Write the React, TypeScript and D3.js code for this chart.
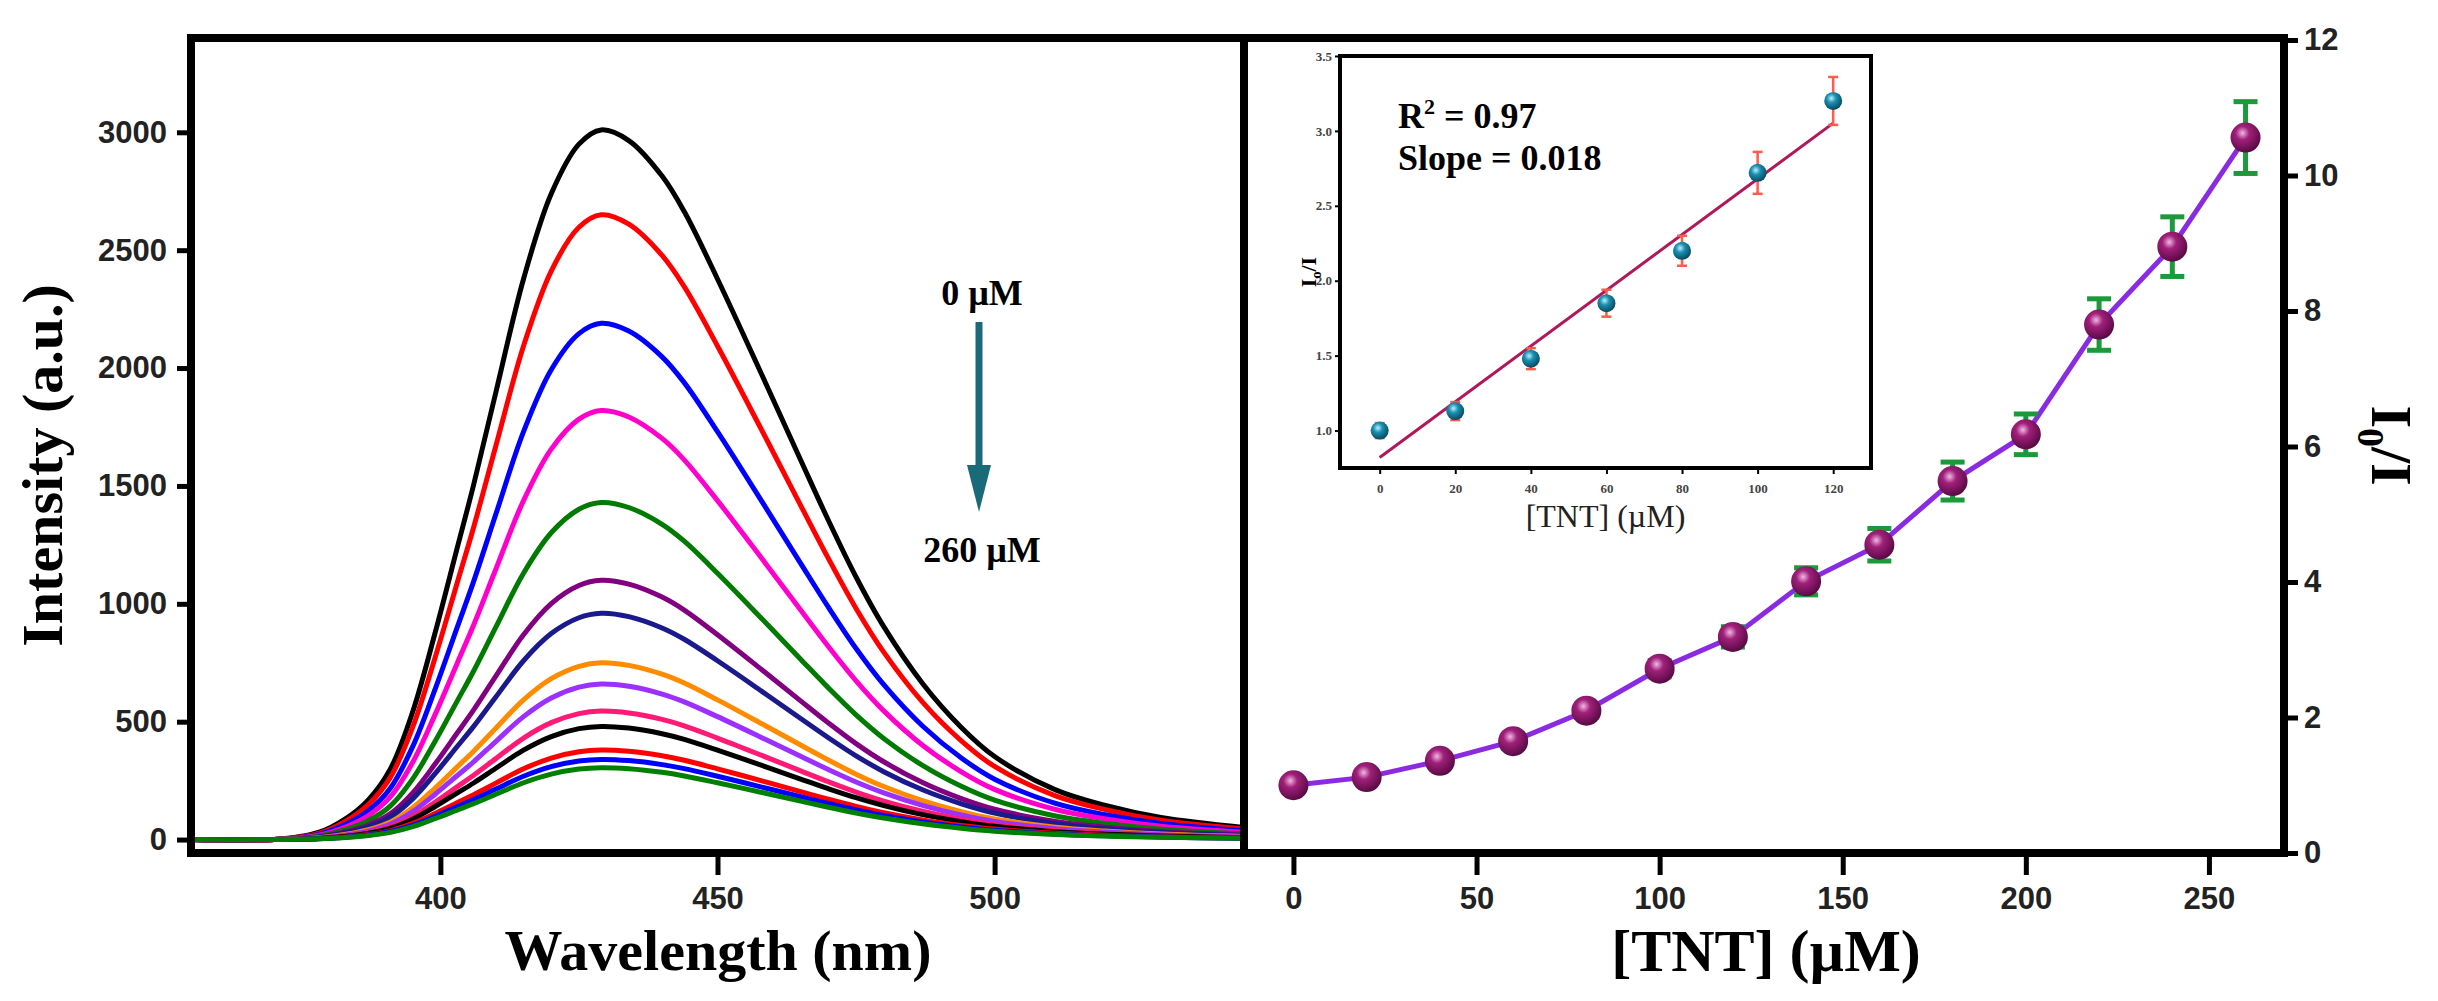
import { useEffect, useRef } from 'react';
import * as d3 from 'd3';

// spectral shape of the 0 µM curve (normalized)
const wavelengths = [355, 370, 378, 383, 387, 391, 395, 399, 403, 406, 410, 415, 420, 425, 429, 434, 440, 444, 450, 458, 465, 470, 475, 480, 487, 494, 500, 511, 520, 530, 545];
const shape = [0.0, 0.0, 0.01, 0.03, 0.056, 0.1, 0.18, 0.29, 0.41, 0.5, 0.63, 0.79, 0.91, 0.98, 1.0, 0.985, 0.935, 0.885, 0.79, 0.655, 0.535, 0.45, 0.37, 0.3, 0.22, 0.158, 0.117, 0.07, 0.048, 0.031, 0.017];
const peaks = [3010, 2650, 2190, 1820, 1430, 1100, 960, 750, 660, 545, 480, 380, 340, 305];
const spectraColors = ['#000000', '#ff0000', '#0000ff', '#ff00cc', '#007a00', '#800080', '#1a1a8c', '#ff8c00', '#9b30ff', '#ff1a75', '#000000', '#ff0000', '#0000ff', '#008000'];

const tntConc = [0, 20, 40, 60, 80, 100, 120, 140, 160, 180, 200, 220, 240, 260];
const ratio = [1.0, 1.12, 1.36, 1.65, 2.1, 2.72, 3.19, 4.01, 4.55, 5.49, 6.18, 7.8, 8.95, 10.56];
const ratioErr = [0.08, 0.08, 0.1, 0.1, 0.1, 0.12, 0.15, 0.2, 0.24, 0.28, 0.3, 0.38, 0.44, 0.53];

const insetConc = [0, 20, 40, 60, 80, 100, 120];
const insetRatio = [1.0, 1.13, 1.48, 1.85, 2.2, 2.72, 3.2];
const insetErr = [0.05, 0.06, 0.07, 0.09, 0.1, 0.14, 0.16];
const fitIntercept = 0.82;
const fitSlope = 0.0186;

const serif = '"Liberation Serif", "DejaVu Serif", serif';
const sans = '"Liberation Sans", Arial, sans-serif';

export default function App() {
  const ref = useRef<SVGSVGElement | null>(null);

  useEffect(() => {
    const svg = d3.select(ref.current);
    svg.selectAll('*').remove();

    const defs = svg.append('defs');
    const g1 = defs.append('radialGradient').attr('id', 'purpleBall').attr('cx', '40%').attr('cy', '35%').attr('r', '65%');
    g1.append('stop').attr('offset', '0%').attr('stop-color', '#f2b8e4');
    g1.append('stop').attr('offset', '35%').attr('stop-color', '#a0207a');
    g1.append('stop').attr('offset', '100%').attr('stop-color', '#5a0a45');
    const g2 = defs.append('radialGradient').attr('id', 'tealBall').attr('cx', '40%').attr('cy', '35%').attr('r', '65%');
    g2.append('stop').attr('offset', '0%').attr('stop-color', '#b8f0ff');
    g2.append('stop').attr('offset', '40%').attr('stop-color', '#1a8fb0');
    g2.append('stop').attr('offset', '100%').attr('stop-color', '#0a4a60');

    // ---------- LEFT PANEL ----------
    const L = { left: 191, right: 1244, top: 38, bottom: 853 };
    const xL = d3.scaleLinear().domain([355, 545]).range([L.left, L.right]);
    const yL = d3.scaleLinear().domain([-40, 3400]).range([L.bottom - 4, L.top]);

    const lineL = d3.line<number>()
      .x((_, i) => xL(wavelengths[i]))
      .y(d => yL(d))
      .curve(d3.curveCatmullRom.alpha(0.5));

    const spectra = svg.append('g');
    peaks.forEach((p, k) => {
      spectra.append('path')
        .attr('d', lineL(shape.map(s => s * p)))
        .attr('fill', 'none')
        .attr('stroke', spectraColors[k])
        .attr('stroke-width', 5);
    });

    const yAxisL = svg.append('g').attr('transform', `translate(${L.left},0)`)
      .call(d3.axisLeft(yL).tickValues([0, 500, 1000, 1500, 2000, 2500, 3000]).tickSize(14).tickPadding(10).tickFormat(d3.format('d')));
    const xAxisL = svg.append('g').attr('transform', `translate(0,${L.bottom})`)
      .call(d3.axisBottom(xL).tickValues([400, 450, 500]).tickSize(22).tickPadding(12));
    [yAxisL, xAxisL].forEach(a => {
      a.select('.domain').remove();
      a.selectAll('line').attr('stroke', '#000').attr('stroke-width', 5);
      a.selectAll('text').attr('font-family', sans).attr('font-weight', 'bold').attr('font-size', 31).attr('fill', '#222');
    });

    svg.append('rect')
      .attr('x', L.left).attr('y', L.top).attr('width', L.right - L.left).attr('height', L.bottom - L.top)
      .attr('fill', 'none').attr('stroke', '#000').attr('stroke-width', 8);

    svg.append('text').attr('transform', `translate(62,${(L.top + L.bottom) / 2 + 20}) rotate(-90)`)
      .attr('text-anchor', 'middle').attr('font-family', serif).attr('font-weight', 'bold').attr('font-size', 58)
      .text('Intensity (a.u.)');
    svg.append('text').attr('x', 718).attr('y', 970)
      .attr('text-anchor', 'middle').attr('font-family', serif).attr('font-weight', 'bold').attr('font-size', 58)
      .text('Wavelength (nm)');

    // arrow annotation
    svg.append('text').attr('x', 982).attr('y', 305).attr('text-anchor', 'middle')
      .attr('font-family', serif).attr('font-weight', 'bold').attr('font-size', 36).text('0 µM');
    svg.append('line').attr('x1', 979).attr('x2', 979).attr('y1', 322).attr('y2', 470)
      .attr('stroke', '#1a6a7a').attr('stroke-width', 7);
    svg.append('path').attr('d', 'M967,465 L991,465 L979,512 Z').attr('fill', '#1a6a7a');
    svg.append('text').attr('x', 982).attr('y', 562).attr('text-anchor', 'middle')
      .attr('font-family', serif).attr('font-weight', 'bold').attr('font-size', 36).text('260 µM');

    // ---------- RIGHT PANEL ----------
    const R = { left: 1244, right: 2284, top: 38, bottom: 853 };
    const xR = d3.scaleLinear().domain([-13.5, 270.5]).range([R.left, R.right]);
    const yR = d3.scaleLinear().domain([0, 12]).range([R.bottom, R.top + 2]);

    const lineR = d3.line<number>().x((_, i) => xR(tntConc[i])).y(d => yR(d));
    svg.append('path').attr('d', lineR(ratio)).attr('fill', 'none').attr('stroke', '#8a2be2').attr('stroke-width', 5);

    const errG = svg.append('g').attr('stroke', '#1a9a3a').attr('stroke-width', 5);
    tntConc.forEach((c, i) => {
      const cx = xR(c);
      const y0 = yR(ratio[i] - ratioErr[i]);
      const y1 = yR(ratio[i] + ratioErr[i]);
      errG.append('line').attr('x1', cx).attr('x2', cx).attr('y1', y0).attr('y2', y1);
      errG.append('line').attr('x1', cx - 12).attr('x2', cx + 12).attr('y1', y0).attr('y2', y0);
      errG.append('line').attr('x1', cx - 12).attr('x2', cx + 12).attr('y1', y1).attr('y2', y1);
    });
    svg.append('g').selectAll('circle').data(ratio).join('circle')
      .attr('cx', (_, i) => xR(tntConc[i])).attr('cy', d => yR(d)).attr('r', 15)
      .attr('fill', 'url(#purpleBall)');

    const yAxisR = svg.append('g').attr('transform', `translate(${R.right},0)`)
      .call(d3.axisRight(yR).tickValues([0, 2, 4, 6, 8, 10, 12]).tickSize(14).tickPadding(6));
    const xAxisR = svg.append('g').attr('transform', `translate(0,${R.bottom})`)
      .call(d3.axisBottom(xR).tickValues([0, 50, 100, 150, 200, 250]).tickSize(22).tickPadding(12));
    [yAxisR, xAxisR].forEach(a => {
      a.select('.domain').remove();
      a.selectAll('line').attr('stroke', '#000').attr('stroke-width', 5);
      a.selectAll('text').attr('font-family', sans).attr('font-weight', 'bold').attr('font-size', 31).attr('fill', '#222');
    });
    svg.append('rect')
      .attr('x', R.left).attr('y', R.top).attr('width', R.right - R.left).attr('height', R.bottom - R.top)
      .attr('fill', 'none').attr('stroke', '#000').attr('stroke-width', 8);

    const lab = svg.append('text').attr('transform', `translate(2372,${(R.top + R.bottom) / 2}) rotate(90)`)
      .attr('text-anchor', 'middle').attr('font-family', serif).attr('font-weight', 'bold').attr('font-size', 58);
    lab.append('tspan').text('I');
    lab.append('tspan').attr('font-size', 38).attr('dy', 14).text('0');
    lab.append('tspan').attr('dy', -14).text('/I');

    svg.append('text').attr('x', 1766).attr('y', 971)
      .attr('text-anchor', 'middle').attr('font-family', serif).attr('font-weight', 'bold').attr('font-size', 60)
      .text('[TNT] (µM)');

    // ---------- INSET ----------
    const I = { left: 1340, right: 1871, top: 56, bottom: 468 };
    const xI = d3.scaleLinear().domain([-10.5, 130]).range([I.left, I.right]);
    const yI = d3.scaleLinear().domain([0.75, 3.5]).range([I.bottom, I.top]);

    svg.append('line')
      .attr('x1', xI(0)).attr('x2', xI(120))
      .attr('y1', yI(fitIntercept)).attr('y2', yI(fitIntercept + fitSlope * 120))
      .attr('stroke', '#b0185a').attr('stroke-width', 3);
    const errI = svg.append('g').attr('stroke', '#ff5a4a').attr('stroke-width', 2.5);
    insetConc.forEach((c, i) => {
      const cx = xI(c);
      const y0 = yI(insetRatio[i] - insetErr[i]);
      const y1 = yI(insetRatio[i] + insetErr[i]);
      errI.append('line').attr('x1', cx).attr('x2', cx).attr('y1', y0).attr('y2', y1);
      errI.append('line').attr('x1', cx - 5).attr('x2', cx + 5).attr('y1', y0).attr('y2', y0);
      errI.append('line').attr('x1', cx - 5).attr('x2', cx + 5).attr('y1', y1).attr('y2', y1);
    });
    svg.append('g').selectAll('circle').data(insetRatio).join('circle')
      .attr('cx', (_, i) => xI(insetConc[i])).attr('cy', d => yI(d)).attr('r', 9)
      .attr('fill', 'url(#tealBall)');

    const yAxisI = svg.append('g').attr('transform', `translate(${I.left},0)`)
      .call(d3.axisLeft(yI).tickValues([1.0, 1.5, 2.0, 2.5, 3.0, 3.5]).tickSize(5).tickPadding(3).tickFormat(d3.format('.1f')));
    const xAxisI = svg.append('g').attr('transform', `translate(0,${I.bottom})`)
      .call(d3.axisBottom(xI).tickValues(insetConc).tickSize(6).tickPadding(10));
    [yAxisI, xAxisI].forEach(a => {
      a.select('.domain').remove();
      a.selectAll('line').attr('stroke', '#000').attr('stroke-width', 2);
      a.selectAll('text').attr('font-family', serif).attr('font-weight', 'bold').attr('font-size', 13).attr('fill', '#444');
    });
    svg.append('rect')
      .attr('x', I.left).attr('y', I.top).attr('width', I.right - I.left).attr('height', I.bottom - I.top)
      .attr('fill', 'none').attr('stroke', '#000').attr('stroke-width', 4);

    const ilab = svg.append('text').attr('transform', `translate(1316,${(I.top + I.bottom) / 2 + 10}) rotate(-90)`)
      .attr('text-anchor', 'middle').attr('font-family', serif).attr('font-weight', 'bold').attr('font-size', 22);
    ilab.append('tspan').text('I');
    ilab.append('tspan').attr('font-size', 14).attr('dy', 5).text('o');
    ilab.append('tspan').attr('dy', -5).text('/I');

    svg.append('text').attr('x', (I.left + I.right) / 2).attr('y', 527).attr('text-anchor', 'middle')
      .attr('font-family', serif).attr('font-size', 32).attr('fill', '#222').text('[TNT] (µM)');

    const r2 = svg.append('text').attr('x', 1398).attr('y', 128)
      .attr('font-family', serif).attr('font-weight', 'bold').attr('font-size', 36);
    r2.append('tspan').text('R');
    r2.append('tspan').attr('font-size', 22).attr('dy', -14).text('2');
    r2.append('tspan').attr('dy', 14).text(' = 0.97');
    svg.append('text').attr('x', 1398).attr('y', 170)
      .attr('font-family', serif).attr('font-weight', 'bold').attr('font-size', 36).text('Slope = 0.018');
  }, []);

  return (
    <div style={{ margin: -8, background: '#fff' }}>
      <svg ref={ref} width={2438} height={1001} style={{ display: 'block' }} />
    </div>
  );
}
